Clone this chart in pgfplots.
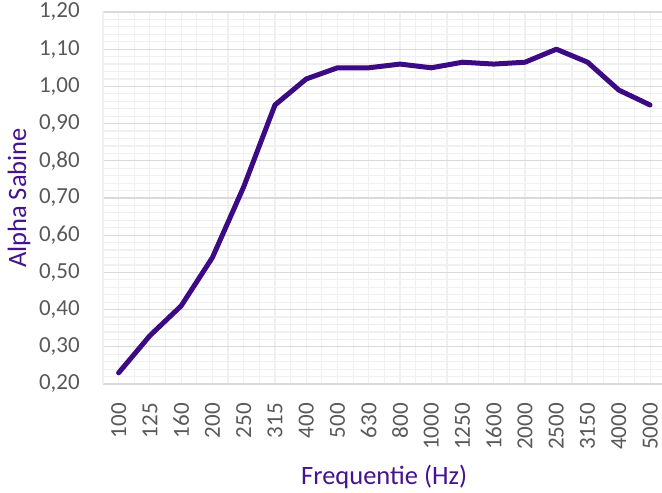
\documentclass[border=0pt]{standalone}
\usepackage{fontspec}
\setmainfont{Carlito}
\usepackage{pgfplots}
\pgfplotsset{compat=1.18}
\definecolor{lineC}{HTML}{3C0A82}
\definecolor{labC}{HTML}{45148C}
\definecolor{tickC}{HTML}{595959}
\definecolor{majG}{HTML}{D9D9D9}
\definecolor{minG}{HTML}{F0F0F0}
\begin{document}
\begin{tikzpicture}
\begin{axis}[
  scale only axis,
  width=559bp, height=372bp,
  xmin=-0.5, xmax=17.38,
  ymin=0.2, ymax=1.2,
  axis x line=bottom, axis y line=left,
  x axis line style={draw=majG, line width=1.5bp, -},
  y axis line style={draw=none},
  xtick={0,...,17},
  xticklabels={100,125,160,200,250,315,400,500,630,800,1000,1250,1600,2000,2500,3150,4000,5000},
  minor x tick num=1,
  ytick={0.2,0.3,0.4,0.5,0.6,0.7,0.8,0.9,1.0,1.1,1.2},
  minor y tick num=4,
  major tick length=0pt, minor tick length=0pt,
  grid=both,
  major x grid style={draw=minG, line width=1.2bp},
  minor x grid style={draw=minG, line width=1.2bp},
  major y grid style={draw=majG, line width=1.3bp},
  minor y grid style={draw=minG, line width=1.2bp},
  extra x ticks={-0.5}, extra x tick labels={},
  extra x tick style={grid=major, major x grid style={draw=minG, line width=1.2bp}},
  /pgf/number format/.cd, fixed, fixed zerofill, precision=2, use comma, assume math mode=true,
  /pgfplots/.cd,
  yticklabel style={font=\fontsize{23bp}{26bp}\selectfont, text=tickC, anchor=east, inner sep=0pt, xshift=-23bp},
  xticklabel style={font=\fontsize{23bp}{26bp}\selectfont, text=tickC, rotate=90, anchor=east, inner sep=0pt, xshift=-19bp},
  xlabel={Frequentie (Hz)},
  ylabel={Alpha Sabine},
  every axis x label/.style={at={(axis description cs:0.503,0)}, yshift=-93bp, anchor=center, font=\fontsize{26.5bp}{30bp}\selectfont, text=labC},
  every axis y label/.style={at={(axis description cs:0,0.5)}, xshift=-84bp, rotate=90, anchor=center, font=\fontsize{26.5bp}{30bp}\selectfont, text=labC},
  clip=false,
]
\addplot[lineC, line width=5bp, line join=round, line cap=round] coordinates {
(0,0.23) (1,0.33) (2,0.41) (3,0.54) (4,0.73) (5,0.95) (6,1.02) (7,1.05) (8,1.05)
(9,1.06) (10,1.05) (11,1.065) (12,1.06) (13,1.065) (14,1.10) (15,1.065) (16,0.99) (17,0.95)
};
\end{axis}
\pgfresetboundingbox
\path[use as bounding box] (-103bp,-109bp) rectangle (559bp,384bp);
\end{tikzpicture}
\end{document}
